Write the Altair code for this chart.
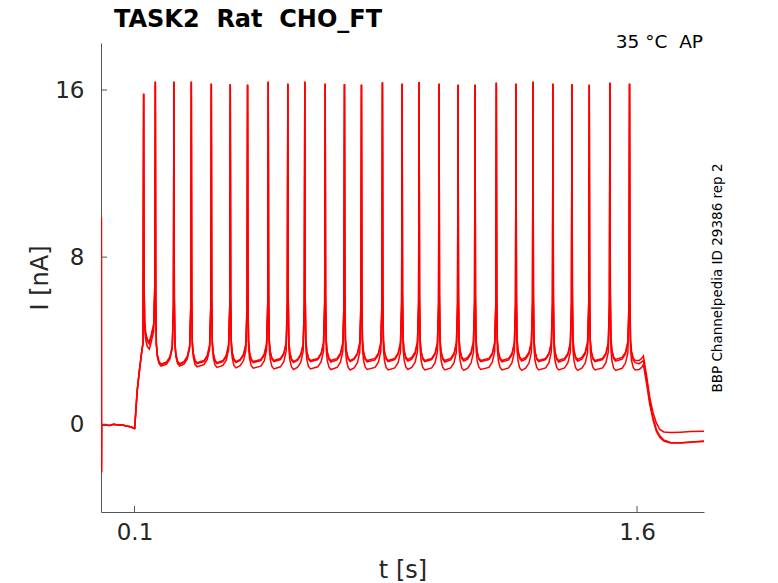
import altair as alt
import pandas as pd

# ---- values ----
NB = "\u00a0"
TITLE = "TASK2" + NB + " Rat" + NB + " CHO_FT"
CORNER = "35 °C" + NB + " AP"
SIDE = "BBP Channelpedia ID 29386 rep 2"
X_TICKS = [0.1, 1.6]
Y_TICKS = [0, 8, 16]
X_DOMAIN = [0.0, 1.8]
Y_DOMAIN = [-4.2, 18.25]

TRACES = ["rep a", "rep b", "rep c"]

# shared start: pipette transient, holding baseline, onset ramp of the step
ONSET_T = [0.001, 0.0014, 0.0018, 0.012, 0.025, 0.038, 0.05, 0.062, 0.075, 0.088, 0.0995,
           0.1005, 0.108, 0.115, 0.121, 0.1255]
ONSET_V = [9.9, -2.3, -0.05, -0.03, -0.06, 0.0, -0.04, -0.02, -0.08, -0.12, -0.2,
           -0.2, 1.6, 2.6, 3.4, 3.9]

# spike times [s] and peak currents [nA]
SPIKE_T = [0.1273, 0.1622, 0.2177, 0.2696, 0.3293, 0.3859, 0.4375, 0.4992, 0.5577,
           0.6084, 0.6692, 0.7268, 0.7775, 0.8401, 0.8989, 0.9496, 1.0092, 1.0659,
           1.1166, 1.1801, 1.2389, 1.2896, 1.3492, 1.4059, 1.4575, 1.5192, 1.5777]
SPIKE_PEAK = [15.82, 16.40, 16.40, 16.40, 16.30, 16.28, 16.25, 16.40, 16.30, 16.40,
              16.30, 16.27, 16.25, 16.36, 16.30, 16.38, 16.30, 16.25, 16.25, 16.35,
              16.30, 16.40, 16.30, 16.27, 16.25, 16.35, 16.30]

# trough level after each spike, per trace [nA]
TROUGH = {
    "rep a": [3.95, 2.88, 2.90, 2.95, 2.95, 3.00, 3.00, 3.05, 3.00, 3.05, 3.05, 3.05,
              3.05, 3.05, 3.10, 3.05, 3.05, 3.10, 3.05, 3.05, 3.10, 3.05, 3.05, 3.10,
              3.05, 3.10, 3.05],
    "rep b": [3.85, 2.84, 2.86, 2.90, 2.90, 2.95, 2.95, 3.00, 2.95, 3.00, 2.98, 3.00,
              2.98, 3.00, 3.02, 3.00, 2.98, 3.02, 3.00, 2.98, 3.02, 3.00, 2.98, 3.02,
              3.00, 3.02, 2.95],
    "rep c": [3.60, 2.78, 2.78, 2.75, 2.72, 2.70, 2.68, 2.65, 2.62, 2.65, 2.62, 2.60,
              2.62, 2.60, 2.62, 2.60, 2.60, 2.58, 2.62, 2.60, 2.58, 2.60, 2.60, 2.58,
              2.60, 2.58, 2.60],
}

# spike waveform: decay after a peak, upswing before the next one
POST_DT = [0.0012, 0.003, 0.006, 0.011, 0.017]
POST_DV = [3.2, 1.0, 0.45, 0.12, 0.0]
PRE_DT = [-0.022, -0.012, -0.005, -0.0015]
PRE_DV = [0.1, 0.35, 0.85, 2.8]

# end of the step and recovery, per trace
TAIL_T = [1.606, 1.614, 1.619, 1.628, 1.638, 1.648, 1.658, 1.668, 1.68, 1.70, 1.73, 1.76, 1.80]
TAIL_V = {
    "rep a": [3.05, 3.15, 3.27, 2.4, 1.3, 0.55, 0.05, -0.25, -0.37, -0.40, -0.38, -0.35, -0.33],
    "rep b": [2.90, 2.98, 3.05, 2.2, 1.1, 0.30, -0.25, -0.55, -0.75, -0.87, -0.88, -0.85, -0.82],
    "rep c": [2.62, 2.72, 2.85, 2.0, 0.95, 0.20, -0.35, -0.62, -0.80, -0.90, -0.90, -0.86, -0.80],
}

# ---- build the long table ----
rows = []
for tr in TRACES:
    pts = list(zip(ONSET_T, ONSET_V))
    n = len(SPIKE_T)
    for i, ts in enumerate(SPIKE_T):
        base = TROUGH[tr][i]
        pts.append((ts, SPIKE_PEAK[i]))
        for dt, dv in zip(POST_DT, POST_DV):
            pts.append((ts + dt, base + dv))
        if i + 1 < n:
            nxt = SPIKE_T[i + 1]
            for dt, dv in zip(PRE_DT, PRE_DV):
                if nxt + dt > pts[-1][0]:
                    pts.append((nxt + dt, base + dv))
    for t, v in zip(TAIL_T, TAIL_V[tr]):
        pts.append((t, v))
    for k, (t, v) in enumerate(pts):
        rows.append({"trace": tr, "t": t, "I": v, "k": k})
df = pd.DataFrame(rows)

FONT = "DejaVu Sans"
TXT = "#262626"
AX = "#555555"

W, H = 603, 469

XSCALE = alt.Scale(domain=X_DOMAIN, nice=False, zero=False)
YSCALE = alt.Scale(domain=Y_DOMAIN, nice=False, zero=False)

lines = alt.Chart(df).mark_line(color="#ff0000", strokeWidth=1.5, clip=True).encode(
    x=alt.X("t:Q", scale=XSCALE, title="t [s]",
            axis=alt.Axis(values=X_TICKS, format=".1f", grid=False,
                          ticks=False, tickSize=0, labelFontSize=23, labelPadding=9,
                          labelColor=TXT, labelFont=FONT, titleFont=FONT,
                          titleFontSize=24, titleFontWeight="normal", titleColor=TXT,
                          titlePadding=14, domainColor=AX, domainWidth=1)),
    y=alt.Y("I:Q", scale=YSCALE, title="I [nA]",
            axis=alt.Axis(values=Y_TICKS, format="d", grid=False,
                          ticks=False, tickSize=0, labelFontSize=23, labelPadding=17,
                          labelColor=TXT, labelFont=FONT, titleFont=FONT,
                          titleFontSize=24, titleFontWeight="normal", titleColor=TXT,
                          titlePadding=2, domainColor=AX, domainWidth=1)),
    detail="trace:N",
    order="k:Q",
)

# inward tick marks (MATLAB style)
xt = alt.Chart(pd.DataFrame({"t": X_TICKS})).mark_rule(color=AX, strokeWidth=1).encode(
    x=alt.X("t:Q", scale=XSCALE, title="t [s]"), y=alt.value(H), y2=alt.value(H - 6))
yt = alt.Chart(pd.DataFrame({"I": Y_TICKS})).mark_rule(color=AX, strokeWidth=1).encode(
    y=alt.Y("I:Q", scale=YSCALE, title="I [nA]"), x=alt.value(0), x2=alt.value(6))

title = alt.Chart(pd.DataFrame({"s": [TITLE]})).mark_text(
    font=FONT, fontSize=24, fontWeight="bold", color="#000000", align="left",
    baseline="alphabetic").encode(x=alt.value(13), y=alt.value(-16), text="s:N")
corner = alt.Chart(pd.DataFrame({"s": [CORNER]})).mark_text(
    font=FONT, fontSize=18.5, color="#000000", align="right",
    baseline="alphabetic").encode(x=alt.value(602), y=alt.value(5), text="s:N")
side = alt.Chart(pd.DataFrame({"s": [SIDE]})).mark_text(
    font=FONT, fontSize=13.5, color="#000000", align="center", angle=270,
    baseline="middle").encode(x=alt.value(617), y=alt.value(235), text="s:N")

chart = alt.layer(lines, xt, yt, title, corner, side).properties(
    width=W, height=H,
    autosize=alt.AutoSizeParams(type="none"),
    padding={"left": 93, "top": 35, "right": 60, "bottom": 72},
).configure(background="white").configure_view(stroke=None)

chart.save("out.html", embed_options={"renderer": "svg", "actions": False})
